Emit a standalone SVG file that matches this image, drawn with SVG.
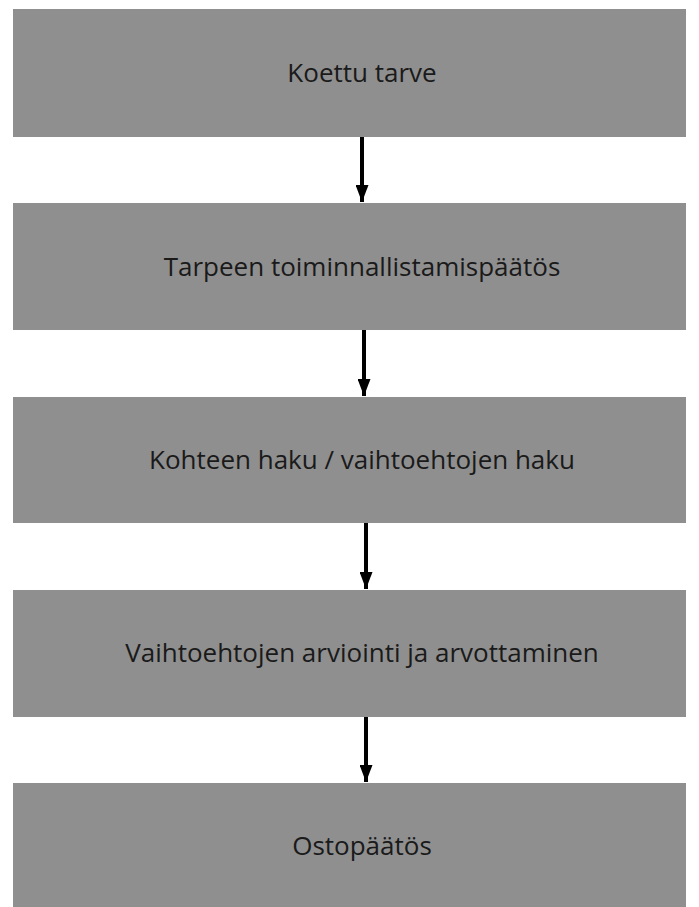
<svg xmlns="http://www.w3.org/2000/svg" width="699" height="907" viewBox="0 0 699 907">
<style>
.box{fill:#8f8f8f}
.lbl{font-family:"Open Sans","Noto Sans",sans-serif;font-size:26px;fill:#1a1a1a;text-anchor:middle}
.conn{stroke:#000;stroke-width:4;fill:none}
</style>
<defs>
<marker id="ah" markerUnits="userSpaceOnUse" markerWidth="18" markerHeight="13" refX="17" refY="6.5" orient="auto">
<path d="M0,0 L17,6.5 L0,13 Z" fill="#000"/>
</marker>
</defs>
<rect width="699" height="907" fill="#fff"/>
<g id="n1"><rect class="box" x="13" y="9" width="673" height="128"/><text class="lbl" x="362" y="82">Koettu tarve</text></g>
<g id="n2"><rect class="box" x="13" y="203" width="673" height="127"/><text class="lbl" x="362" y="276">Tarpeen toiminnallistamispäätös</text></g>
<g id="n3"><rect class="box" x="13" y="397" width="673" height="126"/><text class="lbl" x="362" y="469">Kohteen haku / vaihtoehtojen haku</text></g>
<g id="n4"><rect class="box" x="13" y="590" width="673" height="127"/><text class="lbl" x="362" y="662">Vaihtoehtojen arviointi ja arvottaminen</text></g>
<g id="n5"><rect class="box" x="13" y="783" width="673" height="124"/><text class="lbl" x="362" y="855">Ostopäätös</text></g>
<g id="connectors">
<line class="conn" x1="362" y1="137" x2="362" y2="202" marker-end="url(#ah)"/>
<line class="conn" x1="364" y1="330" x2="364" y2="396" marker-end="url(#ah)"/>
<line class="conn" x1="366" y1="523" x2="366" y2="589" marker-end="url(#ah)"/>
<line class="conn" x1="366" y1="717" x2="366" y2="782" marker-end="url(#ah)"/>
</g>
</svg>
